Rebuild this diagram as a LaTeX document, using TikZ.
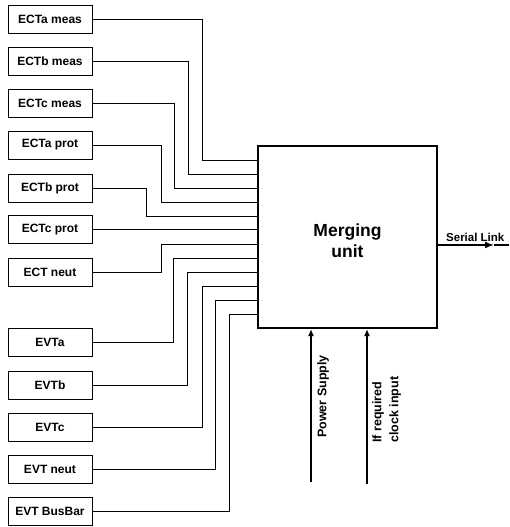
\documentclass[tikz,border=0pt]{standalone}
\usepackage{fontspec}
\setmainfont{Liberation Sans}
\usetikzlibrary{arrows.meta}

\tikzset{
  srcbox/.style={draw, line width=0.9pt, minimum width=84pt, minimum height=28pt,
    inner sep=0pt, font=\bfseries\fontsize{12}{14}\selectfont},
  mubox/.style={draw, line width=2.4pt, minimum width=179pt, minimum height=182pt},
  mutext/.style={align=center, inner sep=0pt, font=\bfseries\fontsize{17.5}{21}\selectfont},
  wire/.style={line width=0.9pt},
  feed/.style={line width=1.1pt, -{Latex[length=7pt,width=6pt]}},
  vlabel/.style={rotate=90, anchor=north west, inner sep=0pt, align=left,
    font=\bfseries\fontsize{12.5}{17}\selectfont}
}

\begin{document}
\begin{tikzpicture}[x=1pt, y=1pt]
    \useasboundingbox (0,0) rectangle (509,-527);

    \node[mubox] (mu) at (347.5,-237) {};
    \node[mutext] (mulbl) at (347.5,-241) {Merging\\unit};

    % source boxes: name/text/box height/turn x/entry height on the unit
    \foreach \name/\txt/\by/\vx/\iy in {
        ectam/ECTa meas/19/202/160,
        ectbm/ECTb meas/61/188/174,
        ectcm/ECTc meas/103/174/188,
        ectap/ECTa prot/145/161/202,
        ectbp/ECTb prot/188/146/216,
        ectcp/ECTc prot/229.6/200/229.6,
        ectn/ECT neut/272/161/244,
        evta/EVTa/342/173/258,
        evtb/EVTb/385/187/272,
        evtc/EVTc/427/202/286,
        evtn/EVT neut/469/215/300,
        evtbb/EVT BusBar/511/229/314}
    {
        \node[srcbox] (\name) at (50,-\by) {\txt};
        \draw[wire] (\name.east) -| (\vx,-\iy) -- (mu.west |- 0,-\iy);
    }

    % output link
    \coordinate (slink) at (509,-245);
    \coordinate (sltip) at (494,-245);
    \draw[line width=1.6pt, -{Latex[length=9pt,width=7pt]}] (mu.east |- slink) -- (sltip);
    \draw[line width=1.6pt] (sltip) -- (slink);
    \node[anchor=south west, inner sep=0pt, font=\bfseries\fontsize{11.5}{14}\selectfont]
        (sllbl) at (446,-242) {Serial Link};

    % supply and clock
    \coordinate (pwrin) at (311,-482);
    \draw[feed] (pwrin) -- (pwrin |- mu.south);
    \node[vlabel] (pwrlbl) at (317,-438) {Power Supply};

    \coordinate (clkin) at (367,-484);
    \draw[feed] (clkin) -- (clkin |- mu.south);
    \node[vlabel] (clklbl) at (372,-443) {If required\\clock input};
\end{tikzpicture}
\end{document}
